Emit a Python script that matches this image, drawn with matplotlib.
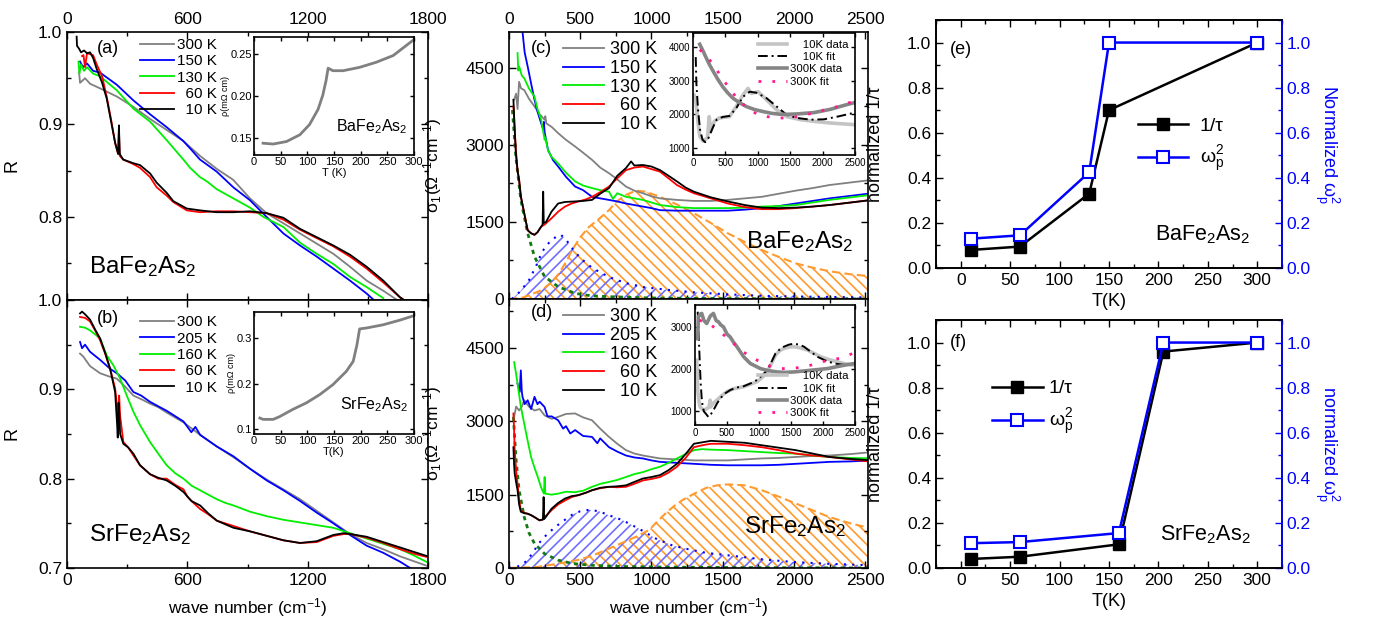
import numpy as np
import matplotlib
matplotlib.use('Agg')
from matplotlib import pyplot as plt
from matplotlib.ticker import MultipleLocator

plt.rcParams['font.family'] = ['Liberation Sans', 'DejaVu Sans']
plt.rcParams['mathtext.fontset'] = 'custom'
plt.rcParams['mathtext.rm'] = 'Liberation Sans'
plt.rcParams['mathtext.it'] = 'Liberation Sans:italic'
plt.rcParams['mathtext.default'] = 'regular'
plt.rcParams['hatch.linewidth'] = 1.2

# ---------------- (a) BaFe2As2 reflectance ----------------
R_ba_300 = [(60,0.957),(65,0.945),(90,0.950),(115,0.944),(165,0.939),(250,0.930),(331,0.919),(414,0.906),
            (497,0.894),(580,0.882),(663,0.866),(746,0.852),(829,0.840),(912,0.820),(995,0.804),(1079,0.793),
            (1162,0.782),(1245,0.771),(1328,0.760),(1411,0.746),(1494,0.731),(1577,0.720),(1660,0.708)]
R_ba_150 = [(65,0.968),(80,0.962),(100,0.966),(130,0.958),(165,0.956),(248,0.943),(331,0.926),(414,0.911),
            (497,0.897),(580,0.882),(614,0.874),(663,0.862),(746,0.849),(829,0.832),(912,0.818),(995,0.800),
            (1079,0.782),(1162,0.769),(1245,0.757),(1328,0.744),(1411,0.731),(1494,0.717),(1525,0.711)]
R_ba_130 = [(57,0.968),(62,0.955),(70,0.965),(85,0.958),(100,0.962),(130,0.955),(165,0.952),(248,0.937),
            (331,0.917),(414,0.903),(497,0.883),(580,0.862),(614,0.853),(663,0.843),(700,0.838),(746,0.830),
            (829,0.820),(912,0.810),(979,0.800),(1079,0.789),(1162,0.772),(1245,0.760),(1328,0.749),
            (1411,0.735),(1494,0.724),(1577,0.712)]
R_ba_60 = [(75,0.974),(82,0.975),(90,0.962),(100,0.977),(130,0.975),(148,0.965),(175,0.952),(198,0.930),
           (220,0.905),(240,0.880),(255,0.868),(259,0.893),(263,0.866),(280,0.862),(331,0.857),(364,0.853),
           (414,0.843),(447,0.832),(497,0.823),(530,0.816),(597,0.807),(663,0.805),(746,0.806),(829,0.806),
           (912,0.805),(995,0.804),(1079,0.797),(1162,0.786),(1245,0.777),(1328,0.768),(1411,0.757),
           (1494,0.744),(1577,0.729),(1660,0.713),(1680,0.710)]
R_ba_10 = [(48,0.995),(50,0.985),(60,0.982),(70,0.978),(85,0.980),(100,0.977),(115,0.978),(130,0.972),
           (148,0.960),(175,0.945),(198,0.928),(220,0.903),(240,0.880),(255,0.868),(259,0.899),(263,0.868),
           (280,0.862),(331,0.858),(364,0.856),(414,0.847),(447,0.837),(497,0.826),(530,0.817),(597,0.809),
           (663,0.807),(746,0.805),(829,0.805),(912,0.806),(995,0.804),(1079,0.799),(1162,0.787),(1245,0.778),
           (1328,0.769),(1411,0.759),(1494,0.746),(1577,0.731),(1660,0.713),(1680,0.710)]

# ---------------- (b) SrFe2As2 reflectance ----------------
R_sr_300 = [(65,0.940),(80,0.937),(115,0.926),(165,0.918),(215,0.914),(248,0.912),(290,0.903),(331,0.893),
            (370,0.889),(414,0.884),(455,0.880),(497,0.874),(581,0.863),(664,0.849),(747,0.836),(830,0.824),
            (913,0.811),(996,0.799),(1079,0.788),(1162,0.777),(1245,0.764),(1328,0.751),(1411,0.738),
            (1494,0.728),(1577,0.721),(1661,0.713),(1800,0.702)]
R_sr_205 = [(65,0.953),(75,0.946),(90,0.950),(115,0.942),(165,0.933),(215,0.923),(248,0.918),(290,0.910),
            (331,0.897),(370,0.893),(414,0.886),(455,0.881),(497,0.876),(581,0.864),(620,0.852),(640,0.858),
            (664,0.849),(747,0.836),(830,0.825),(913,0.811),(996,0.798),(1079,0.787),(1162,0.775),
            (1245,0.762),(1328,0.750),(1411,0.737),(1494,0.725),(1577,0.717),(1661,0.707),(1711,0.700)]
R_sr_160 = [(65,0.970),(90,0.969),(115,0.966),(165,0.957),(198,0.938),(231,0.927),(265,0.912),(298,0.893),
            (331,0.875),(364,0.860),(414,0.841),(455,0.828),(497,0.815),(540,0.806),(581,0.800),(622,0.792),
            (664,0.787),(705,0.782),(747,0.777),(788,0.773),(830,0.770),(913,0.763),(996,0.758),(1079,0.754),
            (1162,0.751),(1245,0.748),(1328,0.745),(1411,0.739),(1494,0.733),(1577,0.727),(1661,0.721),
            (1730,0.714),(1800,0.706)]
R_sr_60 = [(65,0.981),(90,0.980),(115,0.976),(140,0.966),(165,0.955),(190,0.940),(215,0.923),(240,0.901),
           (250,0.880),(256,0.862),(260,0.893),(265,0.870),(281,0.841),(305,0.835),(331,0.826),(364,0.815),
           (414,0.805),(455,0.800),(497,0.800),(540,0.793),(581,0.788),(600,0.780),(630,0.773),(664,0.766),
           (705,0.760),(747,0.753),(830,0.747),(913,0.741),(996,0.736),(1079,0.731),(1162,0.728),(1245,0.729),
           (1328,0.736),(1380,0.738),(1411,0.738),(1494,0.734),(1577,0.728),(1661,0.721),(1730,0.716),
           (1800,0.712)]
R_sr_10 = [(65,0.985),(75,0.987),(90,0.984),(115,0.978),(140,0.967),(165,0.957),(190,0.941),(215,0.923),
           (240,0.897),(250,0.860),(253,0.846),(257,0.885),(260,0.876),(265,0.850),(281,0.839),(305,0.835),
           (331,0.828),(364,0.815),(414,0.805),(455,0.801),(497,0.798),(540,0.792),(581,0.785),(620,0.775),
           (664,0.770),(705,0.761),(747,0.753),(830,0.745),(913,0.741),(996,0.736),(1079,0.731),(1162,0.728),
           (1245,0.730),(1328,0.737),(1380,0.739),(1411,0.738),(1494,0.735),(1577,0.729),(1661,0.723),
           (1730,0.718),(1800,0.713)]

# resistivity insets
rho_ba_T = [17, 36, 61, 86, 104, 120, 129, 135, 139, 148, 167, 198, 229, 261, 300]
rho_ba = [0.144, 0.143, 0.146, 0.154, 0.166, 0.184, 0.201, 0.218, 0.233, 0.230, 0.230, 0.234, 0.240, 0.248, 0.267]
rho_sr_T = [11, 17, 36, 48, 73, 98, 123, 148, 173, 186, 193, 198, 211, 242, 273, 300]
rho_sr = [0.125, 0.122, 0.122, 0.128, 0.144, 0.158, 0.176, 0.198, 0.227, 0.249, 0.285, 0.320, 0.322, 0.329, 0.339, 0.349]

# ---------------- (c) BaFe2As2 conductivity ----------------
s_ba_300 = [(36,3880),(50,4000),(60,3700),(71,4230),(85,4100),(107,4070),(140,3900),(179,3750),(215,3600),
            (250,3490),(255,3560),(262,3420),(300,3350),(345,3230),(400,3100),(464,2970),(520,2850),(583,2710),
            (640,2560),(702,2450),(760,2330),(821,2190),(880,2110),(940,2060),(1000,2000),(1060,1960),
            (1179,1930),(1298,1910),(1417,1910),(1536,1930),(1655,1960),(1774,1990),(1893,2050),(2012,2110),
            (2131,2160),(2250,2220),(2400,2270),(2548,2320)]
s_ba_150 = [(95,5200),(110,4800),(131,4530),(155,4200),(179,3880),(200,3650),(226,3420),(240,3300),(245,3450),
            (250,3250),(274,2900),(310,2700),(345,2580),(400,2380),(464,2190),(520,2120),(583,1990),(640,1960),
            (702,1930),(760,1900),(821,1860),(880,1830),(940,1800),(1000,1770),(1060,1730),(1179,1720),
            (1298,1720),(1417,1720),(1536,1720),(1655,1740),(1774,1770),(1893,1810),(2012,1860),(2131,1910),
            (2250,1960),(2400,2010),(2548,2060)]
s_ba_130 = [(60,4790),(65,4450),(71,4530),(90,4350),(107,4300),(140,4100),(179,3940),(200,3700),(226,3490),
            (250,3100),(255,3150),(274,2900),(298,2770),(345,2640),(400,2460),(464,2290),(520,2210),(583,2160),
            (640,2120),(702,2090),(730,1950),(760,2060),(821,1990),(880,1960),(940,1930),(1000,1880),
            (1060,1830),(1179,1790),(1298,1770),(1417,1770),(1536,1770),(1655,1780),(1774,1800),(1893,1810),
            (2012,1830),(2131,1880),(2250,1930),(2400,1980),(2548,2030)]
s_ba_60 = [(31,3750),(40,3300),(48,2900),(60,2500),(71,2320),(83,2000),(107,1670),(131,1340),(155,1280),
           (179,1250),(200,1300),(226,1410),(250,1450),(298,1570),(345,1700),(393,1800),(440,1860),(488,1900),
           (540,1940),(583,1990),(640,2080),(702,2190),(760,2350),(821,2510),(880,2560),(940,2580),(1000,2530),
           (1060,2480),(1120,2350),(1179,2220),(1240,2130),(1298,2060),(1417,1960),(1536,1860),(1655,1790),
           (1774,1750),(1893,1750),(2012,1770),(2131,1800),(2250,1830),(2400,1880),(2548,1930)]
s_ba_10 = [(31,3880),(40,3300),(48,2850),(60,2500),(71,2320),(83,2000),(107,1670),(131,1340),(155,1280),
           (179,1250),(200,1300),(226,1410),(236,1450),(240,2090),(244,1480),(260,1500),(298,1700),(345,1860),
           (393,1890),(464,1900),(520,1910),(583,1930),(640,2050),(702,2160),(760,2400),(821,2550),(857,2680),
           (880,2600),(940,2610),(1000,2580),(1060,2510),(1120,2400),(1179,2290),(1240,2170),(1298,2090),
           (1417,1980),(1536,1900),(1655,1830),(1774,1780),(1893,1770),(2012,1780),(2131,1800),(2250,1830),
           (2400,1880),(2548,1930)]
drude_ba = [(24,3680),(48,2770),(83,1930),(131,1280),(179,825),(250,435),(345,240),(464,110),(583,60),
            (702,45),(1000,20),(1500,8),(2548,0)]
lor1_ba = [(20,0),(80,150),(141,370),(190,640),(232,920),(290,1130),(340,1230),(364,1250),(400,1160),
           (434,1020),(500,800),(584,605),(700,430),(820,310),(950,230),(1125,175),(1300,130),(1536,90),
           (1800,60),(2100,45),(2548,30)]
lor2_ba = [(0,0),(100,30),(232,175),(300,330),(352,500),(408,760),(443,955),(500,1200),(560,1400),
           (640,1580),(703,1735),(752,1890),(821,2030),(893,2110),(960,2090),(1060,1990),(1179,1840),
           (1298,1670),(1417,1480),(1536,1280),(1655,1110),(1774,955),(1893,820),(2012,695),(2131,610),
           (2250,540),(2400,480),(2548,440)]

# ---------------- (d) SrFe2As2 conductivity ----------------
s_sr_300 = [(36,3090),(50,3300),(71,3220),(90,3300),(107,3430),(140,3300),(179,3220),(215,3250),(250,3120),
            (300,3050),(345,3090),(400,3150),(464,3160),(520,3080),(583,3020),(640,2850),(702,2680),(760,2540),
            (821,2410),(880,2340),(940,2300),(1000,2270),(1060,2240),(1179,2220),(1298,2200),(1417,2200),
            (1536,2200),(1655,2220),(1774,2240),(1893,2250),(2012,2270),(2131,2290),(2250,2300),(2400,2330),
            (2548,2370)]
s_sr_205 = [(60,3770),(75,3600),(83,4040),(90,3600),(95,3500),(110,3350),(131,3430),(155,3250),(179,3500),
            (200,3350),(215,3400),(250,3290),(270,3100),(300,3100),(345,3020),(380,2850),(400,2900),(430,2750),
            (464,2820),(520,2700),(583,2680),(620,2550),(640,2650),(702,2470),(760,2380),(821,2300),(880,2260),
            (940,2240),(1000,2200),(1060,2170),(1179,2150),(1298,2130),(1417,2110),(1536,2100),(1655,2100),
            (1774,2100),(1893,2110),(2012,2130),(2131,2150),(2250,2170),(2400,2180),(2548,2200)]
s_sr_160 = [(36,4210),(48,4000),(60,3770),(83,3300),(107,2950),(131,2600),(155,2270),(179,2050),(202,1860),
            (225,1650),(245,1520),(250,1860),(255,1520),(298,1500),(345,1520),(400,1560),(464,1550),(520,1580),
            (583,1660),(640,1720),(702,1760),(760,1800),(821,1860),(880,1920),(940,1960),(1000,2020),
            (1060,2070),(1120,2150),(1179,2240),(1240,2330),(1298,2410),(1357,2430),(1417,2420),(1536,2410),
            (1655,2390),(1774,2370),(1893,2350),(2012,2340),(2131,2300),(2250,2270),(2400,2250),(2548,2240)]
s_sr_60 = [(31,3160),(36,2800),(40,2410),(50,2000),(60,1720),(71,1400),(83,1180),(107,1130),(131,1110),
           (155,1080),(179,1040),(214,975),(235,990),(250,1040),(298,1180),(345,1300),(393,1380),(440,1450),
           (488,1490),(540,1540),(583,1590),(640,1630),(702,1660),(760,1650),(821,1660),(880,1720),(940,1790),
           (1000,1820),(1060,1860),(1120,1950),(1179,2070),(1240,2250),(1298,2470),(1357,2510),(1417,2540),
           (1536,2540),(1655,2510),(1774,2470),(1893,2410),(2012,2340),(2131,2300),(2250,2270),(2400,2220),
           (2548,2170)]
s_sr_10 = [(31,2470),(36,2100),(40,1930),(50,1750),(60,1590),(71,1300),(83,1150),(107,1120),(131,1110),
           (155,1080),(179,1040),(214,975),(238,990),(243,1450),(247,1000),(260,1050),(298,1210),(345,1330),
           (393,1420),(440,1470),(488,1490),(540,1540),(583,1590),(640,1640),(702,1660),(760,1670),(821,1690),
           (880,1760),(940,1830),(1000,1860),(1060,1900),(1120,2000),(1179,2130),(1240,2330),(1298,2540),
           (1357,2570),(1417,2600),(1536,2580),(1655,2560),(1774,2510),(1893,2460),(2012,2410),(2131,2340),
           (2250,2270),(2400,2230),(2548,2200)]
drude_sr = [(31,3090),(48,2270),(71,1590),(107,1040),(140,720),(179,500),(250,290),(345,160),(450,90),
            (583,55),(800,30),(1060,20),(1500,10),(2548,0)]
lor1_sr = [(0,0),(60,30),(107,100),(160,280),(211,510),(270,700),(328,845),(380,960),(444,1090),(500,1160),
           (563,1190),(631,1160),(700,1080),(795,980),(914,800),(1032,600),(1147,460),(1265,380),(1383,310),
           (1536,260),(1655,220),(1800,170),(2012,120),(2250,85),(2548,55)]
lor2_sr = [(0,0),(200,20),(345,90),(493,170),(583,250),(680,370),(800,520),(900,650),(985,780),(1040,950),
           (1102,1125),(1160,1270),(1219,1390),(1300,1520),(1383,1636),(1460,1690),(1536,1710),(1600,1700),
           (1655,1690),(1774,1590),(1893,1460),(2012,1320),(2131,1180),(2250,1040),(2400,910),(2548,805)]

# conductivity insets: data and Drude-Lorentz fits
in_ba_10d = [(16,2570),(42,2430),(68,1930),(104,1350),(156,1200),(224,1300),(250,1930),(276,1490),(328,1790),
             (406,1890),(563,1930),(667,2230),(771,2570),(849,2770),(901,2620),(1005,2670),(1135,2430),
             (1292,2130),(1448,1930),(1656,1840),(1865,1790),(2125,1740),(2500,1690)]
in_ba_10f = [(42,3700),(52,2920),(78,2130),(109,1540),(146,1250),(188,1170),(240,1300),(302,1590),(365,1840),
             (458,1920),(563,1950),(667,2180),(771,2520),(875,2670),(979,2640),(1135,2480),(1292,2230),
             (1448,1980),(1604,1890),(1813,1840),(2021,1850),(2229,1930),(2500,2050)]
in_ba_300d = [(104,4080),(150,3900),(198,3700),(250,3490),(302,3310),(380,3050),(458,2820),(535,2640),
              (615,2480),(720,2340),(823,2230),(950,2140),(1083,2080),(1210,2030),(1344,2000),(1470,2000),
              (1604,2010),(1735,2030),(1865,2050),(2000,2100),(2125,2150),(2250,2220),(2380,2290),(2500,2350)]
in_ba_300f = [(104,3920),(240,3660),(354,3360),(448,3070),(563,2770),(677,2480),(823,2210),(990,2000),
              (1146,1930),(1302,1890),(1458,1890),(1615,1930),(1771,2000),(1927,2080),(2099,2160),(2271,2250),
              (2464,2380)]
in_sr_10d = [(26,2210),(35,1900),(42,1500),(60,1250),(79,1100),(105,1060),(131,1020),(175,1050),(220,1100),
             (236,1260),(245,1100),(280,1180),(341,1260),(420,1370),(498,1460),(600,1530),(760,1580),(870,1640),
             (970,1700),(1050,1800),(1127,1930),(1190,2120),(1258,2330),(1320,2430),(1389,2490),(1470,2520),
             (1546,2530),(1650,2500),(1756,2450),(1860,2370),(1965,2290),(2100,2220),(2227,2170),(2360,2120),
             (2490,2090)]
in_sr_10f = [(42,3360),(52,3000),(63,2600),(76,2100),(89,1660),(105,1300),(121,1100),(140,990),(168,940),
             (210,860),(250,930),(288,1020),(340,1170),(393,1300),(470,1420),(550,1500),(650,1560),(760,1590),
             (870,1660),(970,1740),(1050,1850),(1127,1970),(1190,2150),(1258,2370),(1320,2460),(1389,2530),
             (1470,2580),(1546,2600),(1625,2580),(1703,2530),(1800,2420),(1913,2290),(2040,2200),(2175,2130),
             (2330,2100),(2490,2090)]
in_sr_300d = [(42,2720),(52,3240),(80,3300),(105,3320),(140,3150),(183,3080),(240,3260),(288,3320),(330,3150),
              (367,3120),(400,3050),(445,3000),(500,2830),(550,2760),(600,2640),(655,2530),(760,2290),(865,2130),
              (1022,2010),(1150,1960),(1284,1930),(1415,1920),(1546,1930),(1680,1950),(1808,1970),(1940,1990),
              (2070,2010),(2200,2050),(2332,2090),(2490,2130)]
in_sr_300f = [(68,3160),(236,3060),(393,2880),(550,2680),(708,2460),(865,2290),(1022,2170),(1179,2070),
              (1336,2010),(1494,2010),(1651,2040),(1808,2090),(1965,2170),(2122,2210),(2306,2270),(2463,2370)]

# ---------------- (e), (f) normalized parameters ----------------
T_ba = [10, 60, 130, 150, 300]
tau_ba = [0.08, 0.095, 0.33, 0.70, 1.0]
wp_ba = [0.13, 0.145, 0.425, 1.0, 1.0]
T_sr = [10, 60, 160, 205, 300]
tau_sr = [0.04, 0.05, 0.105, 0.96, 1.0]
wp_sr = [0.11, 0.115, 0.155, 1.0, 1.0]

GRAY, BLUE, GREEN, RED = '#808080', '#0000ff', '#00ee00', '#ff0000'
HBLUE, HORANGE, DGREEN = '#6f6fff', '#ff9a2e', '#127a12'
PINK = '#ff1a8c'
temps_ba = ['300 K', '150 K', '130 K', '\u200760 K', '\u200710 K']
temps_sr = ['300 K', '205 K', '160 K', '\u200760 K', '\u200710 K']
colors = [GRAY, BLUE, GREEN, RED, 'k']
ba_label = 'BaFe$_2$As$_2$'
sr_label = 'SrFe$_2$As$_2$'

W, H = 1374, 625


def box(x0, y0, x1, y1):
    return [x0 / W, 1 - y1 / H, (x1 - x0) / W, (y1 - y0) / H]


def xy(pts):
    a = np.array(pts, dtype=float)
    return a[:, 0], a[:, 1]


def style(ax, size=12.5):
    ax.tick_params(which='both', direction='in', top=True, right=True, labelsize=size, width=1)
    ax.tick_params(which='major', length=5)
    ax.tick_params(which='minor', length=3)
    for s in ax.spines.values():
        s.set_linewidth(1.2)


fig = plt.figure(figsize=(W / 100, H / 100), dpi=100)

# ---- reflectance panels
for pos, curves, labels, ylim, yt, ytm, tag, name, top in [
        ((67, 32, 428, 300), [R_ba_300, R_ba_150, R_ba_130, R_ba_60, R_ba_10], temps_ba, (0.71, 1.0),
         [0.8, 0.9, 1.0], [0.75, 0.85, 0.95], '(a)', ba_label, True),
        ((67, 300, 428, 568), [R_sr_300, R_sr_205, R_sr_160, R_sr_60, R_sr_10], temps_sr, (0.7, 1.0),
         [0.7, 0.8, 0.9, 1.0], [0.75, 0.85, 0.95], '(b)', sr_label, False)]:
    ax = fig.add_axes(box(*pos))
    for pts, c, lab in zip(curves, colors, labels):
        ax.plot(*xy(pts), color=c, lw=1.3, label=lab)
    ax.set_xlim(0, 1800)
    ax.set_ylim(*ylim)
    ax.xaxis.set_major_locator(MultipleLocator(600))
    ax.xaxis.set_minor_locator(MultipleLocator(300))
    ax.set_yticks(yt)
    ax.set_yticks(ytm, minor=True)
    style(ax)
    ax.tick_params(labeltop=top, labelbottom=not top)
    ax.set_ylabel('R', fontsize=13)
    ax.yaxis.set_label_coords(-0.13, 0.5)
    ax.text(0.083, 0.94 if top else 0.93, tag, transform=ax.transAxes, fontsize=13, va='center')
    ax.text(0.06, 0.1, name, transform=ax.transAxes, fontsize=17.5)
    ax.legend(loc='upper left', bbox_to_anchor=(0.185, 1.0 if top else 0.965), frameon=False, fontsize=11,
              handlelength=2.2, handletextpad=0.2, labelspacing=0.15, borderaxespad=0)
    if not top:
        ax.set_xlabel('wave number (cm$^{-1}$)', fontsize=12.5, labelpad=6)

# ---- resistivity insets
for pos, T, rho, ylim, yt, xl, name in [
        ((254, 37, 414, 155), rho_ba_T, rho_ba, (0.13, 0.27), [0.15, 0.20, 0.25], 'T (K)', ba_label),
        ((254, 312, 414, 434), rho_sr_T, rho_sr, (0.09, 0.357), [0.1, 0.2, 0.3], 'T(K)', sr_label)]:
    ax = fig.add_axes(box(*pos))
    ax.plot(T, rho, color=GRAY, lw=2)
    ax.set_xlim(0, 300)
    ax.set_ylim(*ylim)
    ax.set_xticks(range(0, 301, 50))
    ax.set_yticks(yt)
    style(ax, 8)
    ax.tick_params(which='major', length=3, pad=1.5)
    ax.set_xlabel(xl, fontsize=8, labelpad=1)
    ax.set_ylabel('ρ(mΩ cm)', fontsize=6.5, labelpad=0.5)
    ax.text(0.96, 0.2, name, transform=ax.transAxes, fontsize=11.5, ha='right')

# ---- conductivity panels
for pos, curves, labels, comps, ylim, tag, name, npos, top in [
        ((509, 32, 868, 299), [s_ba_300, s_ba_150, s_ba_130, s_ba_60, s_ba_10], temps_ba,
         (drude_ba, lor1_ba, lor2_ba), (0, 5200), '(c)', ba_label, (0.96, 0.19), True),
        ((509, 299, 868, 568), [s_sr_300, s_sr_205, s_sr_160, s_sr_60, s_sr_10], temps_sr,
         (drude_sr, lor1_sr, lor2_sr), (0, 5500), '(d)', sr_label, (0.94, 0.13), False)]:
    ax = fig.add_axes(box(*pos))
    drude, lor1, lor2 = comps
    x2, y2 = xy(lor2)
    ax.fill_between(x2, 0, y2, facecolor='none', edgecolor=HORANGE, hatch='\\\\\\', linewidth=0)
    ax.plot(x2, y2, color=HORANGE, ls=(0, (4, 2)), lw=1.5)
    x1, y1 = xy(lor1)
    ax.fill_between(x1, 0, y1, facecolor='none', edgecolor=HBLUE, hatch='///', linewidth=0)
    ax.plot(x1, y1, color=BLUE, ls=(0, (1, 3)), lw=1.5)
    ax.plot(*xy(drude), color=DGREEN, ls=(0, (1.5, 1.5)), lw=2)
    for pts, c, lab in zip(curves, colors, labels):
        ax.plot(*xy(pts), color=c, lw=1.3, label=lab)
    ax.set_xlim(0, 2520)
    ax.set_ylim(*ylim)
    ax.xaxis.set_major_locator(MultipleLocator(500))
    ax.xaxis.set_minor_locator(MultipleLocator(250))
    ax.set_yticks([0, 1500, 3000, 4500])
    ax.yaxis.set_minor_locator(MultipleLocator(750))
    style(ax)
    ax.tick_params(labeltop=top, labelbottom=not top)
    ax.set_ylabel('σ$_1$(Ω$^{-1}$cm$^{-1}$)', fontsize=12.5)
    ax.yaxis.set_label_coords(-0.18, 0.5)
    ax.text(0.06, 0.94 if top else 0.95, tag, transform=ax.transAxes, fontsize=13, va='center')
    ax.text(npos[0], npos[1], name, transform=ax.transAxes, fontsize=17.5, ha='right')
    ax.legend(loc='upper left', bbox_to_anchor=(0.125, 1.0), frameon=False, fontsize=13,
              handlelength=2.3, handletextpad=0.3, labelspacing=0.1, borderaxespad=0.1)
    if not top:
        ax.set_xlabel('wave number (cm$^{-1}$)', fontsize=12.5, labelpad=6)

# ---- conductivity insets
for pos, sets, ylim, yt, loc, anchor in [
        ((693, 33, 855, 155), (in_ba_10d, in_ba_10f, in_ba_300d, in_ba_300f), (790, 4415),
         [1000, 2000, 3000, 4000], 'upper right', (1.0, 1.0)),
        ((695, 305, 855, 425), (in_sr_10d, in_sr_10f, in_sr_300d, in_sr_300f), (670, 3520),
         [1000, 2000, 3000], 'lower right', (1.0, 0.0))]:
    ax = fig.add_axes(box(*pos))
    d10, f10, d300, f300 = sets
    ax.plot(*xy(d10), color='#c4c4c4', lw=2.6, label='\u2007\u200710K data')
    ax.plot(*xy(f10), color='k', lw=1.4, ls=(0, (5, 2, 1, 2)), label='\u2007\u200710K fit')
    ax.plot(*xy(d300), color='#858585', lw=2.6, label='300K data')
    ax.plot(*xy(f300), color=PINK, lw=2, ls=(0, (1, 4)), label='300K fit')
    ax.set_xlim(0, 2500)
    ax.set_ylim(*ylim)
    ax.set_xticks(range(0, 2501, 500))
    ax.set_yticks(yt)
    style(ax, 7)
    ax.tick_params(which='major', length=3, pad=2)
    ax.legend(loc=loc, bbox_to_anchor=anchor, frameon=False, fontsize=8.2, handlelength=2.6,
              handletextpad=0.2, labelspacing=0.2, borderaxespad=0.2)

# ---- normalized 1/tau and plasma frequency
for pos, T, tau, wp, tag, name, lanchor, ltp, rlab, tagy in [
        ((936, 20, 1282, 268), T_ba, tau_ba, wp_ba, '(e)', ba_label, (0.56, 0.64), 0.6,
         'Normalized ω$_p^2$', 0.88),
        ((936, 320, 1282, 568), T_sr, tau_sr, wp_sr, '(f)', sr_label, (0.14, 0.79), 0.3,
         'normalized ω$_p^2$', 0.91)]:
    ax = fig.add_axes(box(*pos))
    ax2 = ax.twinx()
    l1, = ax.plot(T, tau, color='k', marker='s', ms=8.5, lw=1.8)
    l2, = ax2.plot(T, wp, color=BLUE, marker='s', ms=8.5, mfc='white', mec=BLUE, mew=1.5, lw=1.8)
    for a in (ax, ax2):
        a.set_xlim(-25, 325)
        a.set_ylim(0, 1.1)
        a.set_yticks([0.0, 0.2, 0.4, 0.6, 0.8, 1.0])
        a.yaxis.set_minor_locator(MultipleLocator(0.1))
    ax.xaxis.set_major_locator(MultipleLocator(50))
    ax.xaxis.set_minor_locator(MultipleLocator(25))
    style(ax)
    ax.tick_params(axis='y', which='both', right=False)
    ax2.tick_params(axis='y', which='both', direction='in', colors=BLUE, labelsize=12.5, width=1)
    ax2.tick_params(axis='y', which='major', length=5)
    ax2.tick_params(axis='y', which='minor', length=3)
    for s in ax2.spines.values():
        s.set_linewidth(1.2)
    ax2.spines['right'].set_color(BLUE)
    ax.set_xlabel('T(K)', fontsize=13, labelpad=4)
    ax.set_ylabel('normalized 1/τ', fontsize=13)
    ax.yaxis.set_label_coords(-0.15, 0.5)
    ax2.set_ylabel(rlab, fontsize=13, color=BLUE, rotation=270)
    ax2.yaxis.set_label_coords(1.17, 0.5)
    ax.text(0.04, tagy, tag, transform=ax.transAxes, fontsize=13, va='center')
    ax.text(0.91, 0.11, name, transform=ax.transAxes, fontsize=15.5, ha='right')
    ax2.legend([l1, l2], ['1/τ', 'ω$_p^2$'], loc='upper left', bbox_to_anchor=lanchor, frameon=False,
               fontsize=14, handlelength=2.6, handletextpad=ltp, labelspacing=0.5, borderaxespad=0)

fig.savefig('out.png', dpi=100)
